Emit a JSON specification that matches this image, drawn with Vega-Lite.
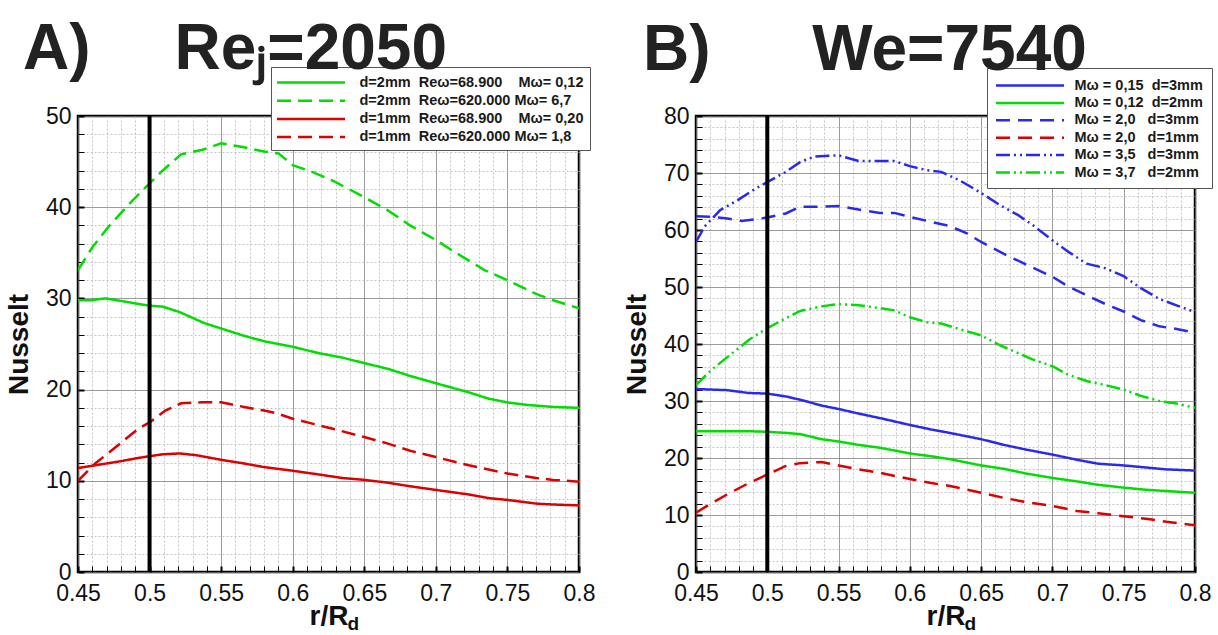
{
  "$schema": "https://vega.github.io/schema/vega-lite/v6.json",
  "background": "white",
  "padding": {"left": 4, "top": 16, "right": 0, "bottom": 0},
  "config": {
    "view": {"stroke": "black", "strokeWidth": 2.5},
    "axis": {
      "labelFont": "Liberation Sans", "labelFontSize": 23, "labelColor": "#111",
      "titleFont": "Liberation Sans", "titleFontSize": 28, "titleFontWeight": "bold", "titleColor": "#111",
      "tickColor": "black", "tickSize": -6, "domain": false, "labelOverlap": false, "labelFlush": false, "gridOpacity": 1, "gridWidth": 1, "tickCount": 200
    },
    "legend": {
      "labelFont": "Liberation Sans", "labelFontSize": 14.5, "labelFontWeight": "bold", "labelColor": "#1a1a1a",
      "strokeColor": "#555", "fillColor": "white", "labelLimit": 400, "symbolStrokeWidth": 2.5
    }
  },
  "datasets": {
    "A": [
      {"s":"a1","r":0.45,"n":29.8},{"s":"a1","r":0.459,"n":29.8},{"s":"a1","r":0.469,"n":30.0},{"s":"a1","r":0.481,"n":29.7},{"s":"a1","r":0.492,"n":29.4},{"s":"a1","r":0.5,"n":29.2},{"s":"a1","r":0.509,"n":29.1},{"s":"a1","r":0.521,"n":28.5},{"s":"a1","r":0.538,"n":27.3},{"s":"a1","r":0.55,"n":26.7},{"s":"a1","r":0.566,"n":25.9},{"s":"a1","r":0.58,"n":25.3},{"s":"a1","r":0.6,"n":24.7},{"s":"a1","r":0.618,"n":24.0},{"s":"a1","r":0.635,"n":23.5},{"s":"a1","r":0.65,"n":22.9},{"s":"a1","r":0.666,"n":22.3},{"s":"a1","r":0.682,"n":21.5},{"s":"a1","r":0.7,"n":20.7},{"s":"a1","r":0.723,"n":19.7},{"s":"a1","r":0.737,"n":19.0},{"s":"a1","r":0.75,"n":18.6},{"s":"a1","r":0.765,"n":18.3},{"s":"a1","r":0.782,"n":18.1},{"s":"a1","r":0.8,"n":18.0},
      {"s":"a2","r":0.45,"n":33.1},{"s":"a2","r":0.46,"n":35.6},{"s":"a2","r":0.471,"n":37.8},{"s":"a2","r":0.486,"n":40.4},{"s":"a2","r":0.5,"n":42.6},{"s":"a2","r":0.509,"n":44.0},{"s":"a2","r":0.522,"n":45.8},{"s":"a2","r":0.537,"n":46.3},{"s":"a2","r":0.55,"n":47.0},{"s":"a2","r":0.565,"n":46.6},{"s":"a2","r":0.58,"n":46.1},{"s":"a2","r":0.59,"n":45.9},{"s":"a2","r":0.6,"n":44.6},{"s":"a2","r":0.613,"n":43.9},{"s":"a2","r":0.628,"n":42.9},{"s":"a2","r":0.639,"n":42.0},{"s":"a2","r":0.65,"n":41.1},{"s":"a2","r":0.666,"n":39.7},{"s":"a2","r":0.682,"n":38.0},{"s":"a2","r":0.7,"n":36.4},{"s":"a2","r":0.713,"n":35.1},{"s":"a2","r":0.734,"n":33.1},{"s":"a2","r":0.75,"n":32.0},{"s":"a2","r":0.77,"n":30.5},{"s":"a2","r":0.782,"n":29.8},{"s":"a2","r":0.8,"n":28.9},
      {"s":"a3","r":0.45,"n":11.4},{"s":"a3","r":0.462,"n":11.7},{"s":"a3","r":0.478,"n":12.1},{"s":"a3","r":0.492,"n":12.5},{"s":"a3","r":0.5,"n":12.7},{"s":"a3","r":0.509,"n":12.9},{"s":"a3","r":0.521,"n":13.0},{"s":"a3","r":0.533,"n":12.8},{"s":"a3","r":0.55,"n":12.3},{"s":"a3","r":0.566,"n":11.9},{"s":"a3","r":0.58,"n":11.5},{"s":"a3","r":0.6,"n":11.1},{"s":"a3","r":0.618,"n":10.7},{"s":"a3","r":0.635,"n":10.3},{"s":"a3","r":0.65,"n":10.1},{"s":"a3","r":0.666,"n":9.8},{"s":"a3","r":0.682,"n":9.4},{"s":"a3","r":0.7,"n":9.0},{"s":"a3","r":0.723,"n":8.5},{"s":"a3","r":0.737,"n":8.1},{"s":"a3","r":0.75,"n":7.9},{"s":"a3","r":0.77,"n":7.5},{"s":"a3","r":0.782,"n":7.4},{"s":"a3","r":0.8,"n":7.3},
      {"s":"a4","r":0.45,"n":10.0},{"s":"a4","r":0.462,"n":11.9},{"s":"a4","r":0.478,"n":13.9},{"s":"a4","r":0.492,"n":15.7},{"s":"a4","r":0.5,"n":16.4},{"s":"a4","r":0.511,"n":17.7},{"s":"a4","r":0.522,"n":18.5},{"s":"a4","r":0.537,"n":18.6},{"s":"a4","r":0.55,"n":18.6},{"s":"a4","r":0.566,"n":18.1},{"s":"a4","r":0.58,"n":17.7},{"s":"a4","r":0.589,"n":17.4},{"s":"a4","r":0.6,"n":16.8},{"s":"a4","r":0.613,"n":16.3},{"s":"a4","r":0.628,"n":15.7},{"s":"a4","r":0.65,"n":14.8},{"s":"a4","r":0.666,"n":14.1},{"s":"a4","r":0.682,"n":13.3},{"s":"a4","r":0.7,"n":12.6},{"s":"a4","r":0.723,"n":11.7},{"s":"a4","r":0.75,"n":10.8},{"s":"a4","r":0.77,"n":10.3},{"s":"a4","r":0.782,"n":10.1},{"s":"a4","r":0.8,"n":9.9}
    ],
    "B": [
      {"s":"b1","r":0.45,"n":32.1},{"s":"b1","r":0.472,"n":31.9},{"s":"b1","r":0.487,"n":31.4},{"s":"b1","r":0.5,"n":31.3},{"s":"b1","r":0.513,"n":30.8},{"s":"b1","r":0.525,"n":30.1},{"s":"b1","r":0.538,"n":29.2},{"s":"b1","r":0.55,"n":28.6},{"s":"b1","r":0.564,"n":27.8},{"s":"b1","r":0.579,"n":27.0},{"s":"b1","r":0.6,"n":25.8},{"s":"b1","r":0.615,"n":25.0},{"s":"b1","r":0.628,"n":24.4},{"s":"b1","r":0.65,"n":23.3},{"s":"b1","r":0.666,"n":22.3},{"s":"b1","r":0.681,"n":21.5},{"s":"b1","r":0.7,"n":20.6},{"s":"b1","r":0.717,"n":19.7},{"s":"b1","r":0.732,"n":19.0},{"s":"b1","r":0.75,"n":18.7},{"s":"b1","r":0.767,"n":18.3},{"s":"b1","r":0.78,"n":18.0},{"s":"b1","r":0.8,"n":17.8},
      {"s":"b2","r":0.45,"n":24.7},{"s":"b2","r":0.474,"n":24.7},{"s":"b2","r":0.487,"n":24.7},{"s":"b2","r":0.5,"n":24.6},{"s":"b2","r":0.513,"n":24.4},{"s":"b2","r":0.523,"n":24.2},{"s":"b2","r":0.538,"n":23.3},{"s":"b2","r":0.55,"n":22.9},{"s":"b2","r":0.564,"n":22.3},{"s":"b2","r":0.579,"n":21.8},{"s":"b2","r":0.6,"n":20.8},{"s":"b2","r":0.615,"n":20.3},{"s":"b2","r":0.628,"n":19.8},{"s":"b2","r":0.65,"n":18.7},{"s":"b2","r":0.666,"n":18.1},{"s":"b2","r":0.681,"n":17.3},{"s":"b2","r":0.7,"n":16.5},{"s":"b2","r":0.717,"n":15.9},{"s":"b2","r":0.732,"n":15.3},{"s":"b2","r":0.75,"n":14.8},{"s":"b2","r":0.767,"n":14.4},{"s":"b2","r":0.78,"n":14.2},{"s":"b2","r":0.8,"n":13.9},
      {"s":"b3","r":0.45,"n":62.4},{"s":"b3","r":0.461,"n":62.3},{"s":"b3","r":0.472,"n":62.0},{"s":"b3","r":0.482,"n":61.6},{"s":"b3","r":0.495,"n":62.0},{"s":"b3","r":0.5,"n":62.2},{"s":"b3","r":0.513,"n":62.9},{"s":"b3","r":0.523,"n":64.1},{"s":"b3","r":0.535,"n":64.1},{"s":"b3","r":0.55,"n":64.2},{"s":"b3","r":0.564,"n":63.6},{"s":"b3","r":0.579,"n":63.0},{"s":"b3","r":0.589,"n":63.0},{"s":"b3","r":0.6,"n":62.3},{"s":"b3","r":0.612,"n":61.6},{"s":"b3","r":0.628,"n":60.7},{"s":"b3","r":0.64,"n":59.4},{"s":"b3","r":0.65,"n":57.9},{"s":"b3","r":0.666,"n":55.8},{"s":"b3","r":0.681,"n":54.0},{"s":"b3","r":0.7,"n":51.8},{"s":"b3","r":0.711,"n":50.1},{"s":"b3","r":0.726,"n":48.3},{"s":"b3","r":0.739,"n":46.8},{"s":"b3","r":0.75,"n":45.7},{"s":"b3","r":0.762,"n":44.2},{"s":"b3","r":0.775,"n":43.1},{"s":"b3","r":0.788,"n":42.6},{"s":"b3","r":0.8,"n":42.0},
      {"s":"b4","r":0.45,"n":10.4},{"s":"b4","r":0.461,"n":12.1},{"s":"b4","r":0.474,"n":13.9},{"s":"b4","r":0.487,"n":15.6},{"s":"b4","r":0.5,"n":17.1},{"s":"b4","r":0.513,"n":18.6},{"s":"b4","r":0.523,"n":19.1},{"s":"b4","r":0.538,"n":19.3},{"s":"b4","r":0.55,"n":18.7},{"s":"b4","r":0.564,"n":18.0},{"s":"b4","r":0.579,"n":17.4},{"s":"b4","r":0.6,"n":16.3},{"s":"b4","r":0.615,"n":15.6},{"s":"b4","r":0.628,"n":15.1},{"s":"b4","r":0.65,"n":13.9},{"s":"b4","r":0.666,"n":13.0},{"s":"b4","r":0.681,"n":12.3},{"s":"b4","r":0.7,"n":11.6},{"s":"b4","r":0.717,"n":10.7},{"s":"b4","r":0.732,"n":10.3},{"s":"b4","r":0.75,"n":9.8},{"s":"b4","r":0.767,"n":9.3},{"s":"b4","r":0.78,"n":8.8},{"s":"b4","r":0.8,"n":8.2},
      {"s":"b5","r":0.45,"n":57.9},{"s":"b5","r":0.456,"n":60.6},{"s":"b5","r":0.467,"n":63.5},{"s":"b5","r":0.479,"n":65.2},{"s":"b5","r":0.492,"n":67.3},{"s":"b5","r":0.5,"n":68.4},{"s":"b5","r":0.513,"n":70.2},{"s":"b5","r":0.523,"n":71.9},{"s":"b5","r":0.533,"n":72.9},{"s":"b5","r":0.55,"n":73.1},{"s":"b5","r":0.564,"n":72.1},{"s":"b5","r":0.579,"n":72.1},{"s":"b5","r":0.589,"n":72.1},{"s":"b5","r":0.6,"n":71.2},{"s":"b5","r":0.612,"n":70.5},{"s":"b5","r":0.622,"n":70.2},{"s":"b5","r":0.635,"n":68.7},{"s":"b5","r":0.65,"n":66.5},{"s":"b5","r":0.663,"n":64.4},{"s":"b5","r":0.676,"n":62.6},{"s":"b5","r":0.686,"n":60.9},{"s":"b5","r":0.7,"n":58.2},{"s":"b5","r":0.711,"n":56.2},{"s":"b5","r":0.724,"n":54.1},{"s":"b5","r":0.737,"n":53.3},{"s":"b5","r":0.75,"n":51.9},{"s":"b5","r":0.762,"n":49.8},{"s":"b5","r":0.775,"n":47.9},{"s":"b5","r":0.788,"n":46.7},{"s":"b5","r":0.8,"n":45.6},
      {"s":"b6","r":0.45,"n":32.8},{"s":"b6","r":0.461,"n":35.5},{"s":"b6","r":0.474,"n":38.1},{"s":"b6","r":0.487,"n":40.7},{"s":"b6","r":0.5,"n":42.8},{"s":"b6","r":0.513,"n":44.5},{"s":"b6","r":0.523,"n":45.8},{"s":"b6","r":0.538,"n":46.6},{"s":"b6","r":0.55,"n":47.0},{"s":"b6","r":0.564,"n":46.8},{"s":"b6","r":0.579,"n":46.3},{"s":"b6","r":0.589,"n":45.9},{"s":"b6","r":0.6,"n":44.7},{"s":"b6","r":0.612,"n":43.8},{"s":"b6","r":0.622,"n":43.6},{"s":"b6","r":0.635,"n":42.6},{"s":"b6","r":0.65,"n":41.5},{"s":"b6","r":0.663,"n":39.8},{"s":"b6","r":0.676,"n":38.4},{"s":"b6","r":0.686,"n":37.3},{"s":"b6","r":0.7,"n":36.1},{"s":"b6","r":0.711,"n":34.6},{"s":"b6","r":0.724,"n":33.5},{"s":"b6","r":0.737,"n":32.8},{"s":"b6","r":0.75,"n":32.0},{"s":"b6","r":0.762,"n":30.9},{"s":"b6","r":0.775,"n":30.0},{"s":"b6","r":0.788,"n":29.5},{"s":"b6","r":0.8,"n":28.8}
    ]
  },
  "spacing": 25,
  "resolve": {"scale": {"color": "independent", "strokeDash": "independent", "x": "independent", "y": "independent"}, "legend": {"color": "independent", "strokeDash": "independent"}},
  "hconcat": [
    {
      "width": 501, "height": 456,
      "title": {"text": "A)\u00a0\u00a0\u00a0\u00a0\u2009Re\u2c7c=2050", "anchor": "start", "frame": "group", "dx": -55, "font": "Liberation Sans", "fontSize": 64, "fontWeight": "bold", "color": "#222", "baseline": "alphabetic", "offset": -66},
      "layer": [
        {
          "data": {"name": "A"},
          "mark": {"type": "line", "strokeWidth": 2.5, "clip": true},
          "encoding": {
            "x": {"field": "r", "type": "quantitative", "scale": {"domain": [0.45, 0.8], "nice": false, "zero": false},
              "axis": {"title": "r/R", "labelPadding": 16, "titlePadding": -3, "tickCount": 200, "labelOverlap": false,
                "values": [0.45,0.46,0.47,0.48,0.49,0.5,0.51,0.52,0.53,0.54,0.55,0.56,0.57,0.58,0.59,0.6,0.61,0.62,0.63,0.64,0.65,0.66,0.67,0.68,0.69,0.7,0.71,0.72,0.73,0.74,0.75,0.76,0.77,0.78,0.79,0.8],
                "labelExpr": "abs(datum.value*20-round(datum.value*20))<0.001 ? format(datum.value,'~g') : ''",
                "gridColor": {"condition": {"test": "abs(datum.value*20-round(datum.value*20))<0.001", "value": "#7a7a7a"}, "value": "#c4c4c4"},
                "gridDash": {"condition": {"test": "abs(datum.value*20-round(datum.value*20))<0.001", "value": [1,0]}, "value": [2,2]},
                "tickWidth": {"condition": {"test": "abs(datum.value*20-round(datum.value*20))<0.001", "value": 2}, "value": 1}
              }},
            "y": {"field": "n", "type": "quantitative", "scale": {"domain": [0, 50], "nice": false},
              "axis": {"title": "Nusselt", "labelPadding": 13, "titlePadding": 12, "tickCount": 200, "labelOverlap": false,
                "values": [0,2,4,6,8,10,12,14,16,18,20,22,24,26,28,30,32,34,36,38,40,42,44,46,48,50],
                "labelExpr": "datum.value % 10 == 0 ? format(datum.value,'d') : ''",
                "gridColor": {"condition": {"test": "datum.value % 10 == 0", "value": "#7a7a7a"}, "value": "#c4c4c4"},
                "gridDash": {"condition": {"test": "datum.value % 10 == 0", "value": [1,0]}, "value": [2,2]},
                "tickWidth": {"condition": {"test": "datum.value % 10 == 0", "value": 2}, "value": 1}
              }},
            "color": {"field": "s", "type": "nominal",
              "scale": {"domain": ["a1","a2","a3","a4"], "range": ["#00dd00","#00dd00","#dd0000","#dd0000"]},
              "legend": {"orient": "none", "legendX": 193, "legendY": -49, "title": null, "symbolType": "M-4.25,0H4.25", "symbolSize": 256, "symbolOffset": 24.5, "labelOffset": 39, "padding": 6, "rowPadding": 2.2,
                "labelExpr": "{'a1':'d=2mm\u00a0\u00a0Re\u03c9=68.900\u00a0\u00a0\u00a0\u00a0M\u03c9= 0,12','a2':'d=2mm\u00a0\u00a0Re\u03c9=620.000\u00a0M\u03c9= 6,7','a3':'d=1mm\u00a0\u00a0Re\u03c9=68.900\u00a0\u00a0\u00a0\u00a0M\u03c9= 0,20','a4':'d=1mm\u00a0\u00a0Re\u03c9=620.000\u00a0M\u03c9= 1,8'}[datum.label]"}},
            "strokeDash": {"field": "s", "type": "nominal",
              "scale": {"domain": ["a1","a2","a3","a4"], "range": [[1,0],[14,7],[1,0],[14,7]]},
              "legend": {"orient": "none", "legendX": 193, "legendY": -49, "title": null, "symbolType": "M-4.25,0H4.25", "symbolSize": 256, "symbolOffset": 24.5, "labelOffset": 39, "padding": 6, "rowPadding": 2.2,
                "labelExpr": "{'a1':'d=2mm\u00a0\u00a0Re\u03c9=68.900\u00a0\u00a0\u00a0\u00a0M\u03c9= 0,12','a2':'d=2mm\u00a0\u00a0Re\u03c9=620.000\u00a0M\u03c9= 6,7','a3':'d=1mm\u00a0\u00a0Re\u03c9=68.900\u00a0\u00a0\u00a0\u00a0M\u03c9= 0,20','a4':'d=1mm\u00a0\u00a0Re\u03c9=620.000\u00a0M\u03c9= 1,8'}[datum.label]"}}
          }
        },
        {
          "data": {"values": [{}]},
          "mark": {"type": "rule", "color": "black", "strokeWidth": 4},
          "encoding": {"x": {"datum": 0.5}}
        },
        {
          "data": {"values": [{}]},
          "mark": {"type": "text", "text": "d", "font": "Liberation Sans", "fontSize": 19, "fontWeight": "bold", "color": "#111", "align": "left", "baseline": "alphabetic", "dx": 19, "dy": 58},
          "encoding": {"x": {"datum": 0.625}, "y": {"datum": 0}}
        }
      ]
    },
    {
      "width": 499, "height": 456,
      "title": {"text": "B)\u00a0\u00a0\u00a0\u00a0\u00a0\u2009We=7540", "anchor": "start", "frame": "group", "dx": -53, "font": "Liberation Sans", "fontSize": 64, "fontWeight": "bold", "color": "#222", "baseline": "alphabetic", "offset": -66},
      "layer": [
        {
          "data": {"name": "B"},
          "mark": {"type": "line", "strokeWidth": 2.5, "clip": true},
          "encoding": {
            "x": {"field": "r", "type": "quantitative", "scale": {"domain": [0.45, 0.8], "nice": false, "zero": false},
              "axis": {"title": "r/R", "labelPadding": 16, "titlePadding": -3, "tickCount": 200, "labelOverlap": false,
                "values": [0.45,0.46,0.47,0.48,0.49,0.5,0.51,0.52,0.53,0.54,0.55,0.56,0.57,0.58,0.59,0.6,0.61,0.62,0.63,0.64,0.65,0.66,0.67,0.68,0.69,0.7,0.71,0.72,0.73,0.74,0.75,0.76,0.77,0.78,0.79,0.8],
                "labelExpr": "abs(datum.value*20-round(datum.value*20))<0.001 ? format(datum.value,'~g') : ''",
                "gridColor": {"condition": {"test": "abs(datum.value*20-round(datum.value*20))<0.001", "value": "#7a7a7a"}, "value": "#c4c4c4"},
                "gridDash": {"condition": {"test": "abs(datum.value*20-round(datum.value*20))<0.001", "value": [1,0]}, "value": [2,2]},
                "tickWidth": {"condition": {"test": "abs(datum.value*20-round(datum.value*20))<0.001", "value": 2}, "value": 1}
              }},
            "y": {"field": "n", "type": "quantitative", "scale": {"domain": [0, 80], "nice": false},
              "axis": {"title": "Nusselt", "labelPadding": 13, "titlePadding": 12, "tickCount": 200, "labelOverlap": false,
                "values": [0,2,4,6,8,10,12,14,16,18,20,22,24,26,28,30,32,34,36,38,40,42,44,46,48,50,52,54,56,58,60,62,64,66,68,70,72,74,76,78,80],
                "labelExpr": "datum.value % 10 == 0 ? format(datum.value,'d') : ''",
                "gridColor": {"condition": {"test": "datum.value % 10 == 0", "value": "#7a7a7a"}, "value": "#c4c4c4"},
                "gridDash": {"condition": {"test": "datum.value % 10 == 0", "value": [1,0]}, "value": [2,2]},
                "tickWidth": {"condition": {"test": "datum.value % 10 == 0", "value": 2}, "value": 1}
              }},
            "color": {"field": "s", "type": "nominal",
              "scale": {"domain": ["b1","b2","b3","b4","b5","b6"], "range": ["#2a2aee","#00dd00","#2a2aee","#dd0000","#2a2aee","#00dd00"]},
              "legend": {"orient": "none", "legendX": 291, "legendY": -48, "title": null, "symbolType": "M-4.857,0H4.857", "symbolSize": 196, "symbolOffset": 25.5, "labelOffset": 36, "padding": 9, "rowPadding": 2.4,
                "labelExpr": "{'b1':'M\u03c9 = 0,15\u00a0\u00a0d=3mm','b2':'M\u03c9 = 0,12\u00a0\u00a0d=2mm','b3':'M\u03c9 = 2,0\u00a0\u00a0\u00a0d=3mm','b4':'M\u03c9 = 2,0\u00a0\u00a0\u00a0d=1mm','b5':'M\u03c9 = 3,5\u00a0\u00a0\u00a0d=3mm','b6':'M\u03c9 = 3,7\u00a0\u00a0\u00a0d=2mm'}[datum.label]"}},
            "strokeDash": {"field": "s", "type": "nominal",
              "scale": {"domain": ["b1","b2","b3","b4","b5","b6"], "range": [[1,0],[1,0],[14,8],[14,8],[14,4,2,4,2,4],[14,4,2,4,2,4]]},
              "legend": {"orient": "none", "legendX": 291, "legendY": -48, "title": null, "symbolType": "M-4.857,0H4.857", "symbolSize": 196, "symbolOffset": 25.5, "labelOffset": 36, "padding": 9, "rowPadding": 2.4,
                "labelExpr": "{'b1':'M\u03c9 = 0,15\u00a0\u00a0d=3mm','b2':'M\u03c9 = 0,12\u00a0\u00a0d=2mm','b3':'M\u03c9 = 2,0\u00a0\u00a0\u00a0d=3mm','b4':'M\u03c9 = 2,0\u00a0\u00a0\u00a0d=1mm','b5':'M\u03c9 = 3,5\u00a0\u00a0\u00a0d=3mm','b6':'M\u03c9 = 3,7\u00a0\u00a0\u00a0d=2mm'}[datum.label]"}}
          }
        },
        {
          "data": {"values": [{}]},
          "mark": {"type": "rule", "color": "black", "strokeWidth": 4},
          "encoding": {"x": {"datum": 0.5}}
        },
        {
          "data": {"values": [{}]},
          "mark": {"type": "text", "text": "d", "font": "Liberation Sans", "fontSize": 19, "fontWeight": "bold", "color": "#111", "align": "left", "baseline": "alphabetic", "dx": 19, "dy": 58},
          "encoding": {"x": {"datum": 0.625}, "y": {"datum": 0}}
        }
      ]
    }
  ]
}
